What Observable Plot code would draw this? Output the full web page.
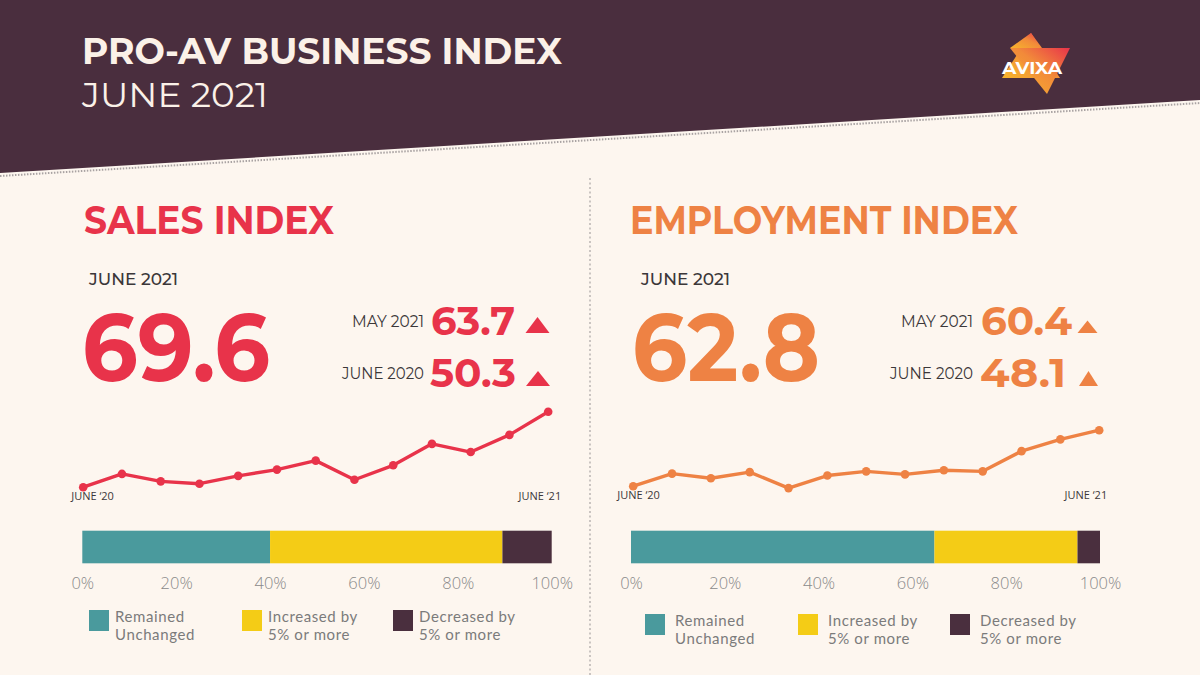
<!DOCTYPE html>
<html>
<head>
<meta charset="utf-8">
<script src="https://cdn.jsdelivr.net/npm/d3@7"></script>
<script src="https://cdn.jsdelivr.net/npm/@observablehq/plot@0.6"></script>
<style>
  html, body { margin: 0; padding: 0; background: #fdf6ef; }
  #page { position: relative; width: 1200px; height: 675px; overflow: hidden; background: #fdf6ef; font-family: "Open Sans", sans-serif; }
  .abs { position: absolute; }
  .legend-item { position: absolute; display: flex; align-items: flex-start; }
  .legend-swatch { width: 20px; height: 21px; }
  .legend-text { font-family: Lato, "Open Sans", sans-serif; font-size: 15px; line-height: 18px; color: #7b7b7b; letter-spacing: 0.6px; }
</style>
</head>
<body>
<div id="page">
  <svg id="deco" class="abs" width="1200" height="675" style="left:0;top:0"></svg>
</div>
<script>
// ---------------- DATA ----------------
const months = ["2020-06","2020-07","2020-08","2020-09","2020-10","2020-11","2020-12",
                "2021-01","2021-02","2021-03","2021-04","2021-05","2021-06"];
const salesIndex      = [50.3, 53.7, 51.8, 51.2, 53.2, 54.8, 57.1, 52.2, 55.9, 61.4, 59.3, 63.7, 69.6];
const employmentIndex = [48.1, 51.4, 50.2, 51.8, 47.6, 50.9, 52.0, 51.2, 52.3, 52.0, 57.3, 60.4, 62.8];
const endLabels = ["JUNE ‘20", "JUNE ‘21"];

const responseCategories = ["Remained Unchanged", "Increased by 5% or more", "Decreased by 5% or more"];
const legendLines = [["Remained", "Unchanged"], ["Increased by", "5% or more"], ["Decreased by", "5% or more"]];
const salesShares      = [40.0, 49.5, 10.5];
const employmentShares = [64.7, 30.5, 4.8];
const axisTicks = [0, 20, 40, 60, 80, 100];

// ---------------- STYLE ----------------
const RED = "#e8334a", ORANGE = "#ee8244", DARK = "#4a2e3e", CREAM = "#fbf1e8", INK = "#3b3739";
const categoryColors = ["#4a9a9d", "#f4cc16", "#4a2f3e"];

const page = document.getElementById("page");
const svg = d3.select("#deco");

// header band
svg.append("polygon").attr("points", "0,0 1200,0 1200,100 0,173").attr("fill", DARK);
svg.append("line").attr("x1", 0).attr("y1", 176).attr("x2", 1200).attr("y2", 103)
  .attr("stroke", "#a9a3a3").attr("stroke-width", 2).attr("stroke-dasharray", "1.5,1.5");
// divider
svg.append("line").attr("x1", 590).attr("y1", 178).attr("x2", 590).attr("y2", 675)
  .attr("stroke", "#b0aaa8").attr("stroke-width", 1.3).attr("stroke-dasharray", "2,2.5");

// logo
const defs = svg.append("defs");
const grad = defs.append("linearGradient").attr("id", "lg").attr("x1", "0").attr("y1", "1").attr("x2", "1").attr("y2", "0");
grad.append("stop").attr("offset", "0").attr("stop-color", "#f7b52c");
grad.append("stop").attr("offset", "0.55").attr("stop-color", "#f28a3a");
grad.append("stop").attr("offset", "1").attr("stop-color", "#e8334a");
svg.append("polygon").attr("points", "1031,33 1002,78 1060,78").attr("fill", "url(#lg)");
svg.append("polygon").attr("points", "1010,48 1070,48 1047,94").attr("fill", "url(#lg)");
svg.append("polygon").attr("points", "1010,48 1042,48 1031,33").attr("fill", "url(#lg)");

function txt(s, x, y, w, size, weight, fill, family) {
  svg.append("text").attr("x", x).attr("y", y).attr("font-size", size).attr("font-weight", weight)
    .attr("font-family", family || "Montserrat, 'Open Sans', sans-serif").attr("fill", fill)
    .attr("textLength", w).attr("lengthAdjust", "spacingAndGlyphs").text(s);
}
txt("AVIXA", 1002, 74, 60, 16, 700, "#ffffff");
txt("PRO-AV BUSINESS INDEX", 82, 64, 480, 37, 700, CREAM);
txt("JUNE 2021", 82, 107, 186, 33, 400, CREAM);

function tri(cx, base, w, h, fill) {
  svg.append("polygon").attr("points", `${cx - w/2},${base} ${cx + w/2},${base} ${cx},${base - h}`).attr("fill", fill);
}

const panels = [
  { name: "SALES INDEX", values: salesIndex, shares: salesShares, color: RED,
    titleX: 84, titleW: 250, dateX: 89, bigX: 82, bigW: 188,
    mayX: 352, mayW: 72, numX: 431, numW: 84, jun20X: 342, jun20W: 82, num2W: 86,
    tri1: [537.5, 333, 24, 16], tri2: [538, 386, 24, 15],
    lineLeft: 60, lineRange: [50.3, 69.6], lineMargins: [11.3, 32.3, 23.3, 22.7], labelDx: [-12, 13],
    barLeft: 60, barMargins: [22.3, 28.3],
    legendTop: 607, legendX: [89, 242, 393], legendTextGap: 26 },
  { name: "EMPLOYMENT INDEX", values: employmentIndex, shares: employmentShares, color: ORANGE,
    titleX: 630, titleW: 388, dateX: 641, bigX: 632, bigW: 188,
    mayX: 901, mayW: 72, numX: 981, numW: 91, jun20X: 890, jun20W: 83, num2W: 86,
    tri1: [1087.5, 333, 20, 12.5], tri2: [1088.5, 386, 19, 15],
    lineLeft: 610, lineRange: [48.1, 62.8], lineMargins: [29.7, 31.3, 24.3, 22.7], labelDx: [-16, 8],
    barLeft: 610, barMargins: [21, 30],
    legendTop: 611, legendX: [645, 798, 950], legendTextGap: 30 }
];

for (const p of panels) {
  const last = p.values[p.values.length - 1], prev = p.values[p.values.length - 2], first = p.values[0];
  txt(p.name, p.titleX, 233.5, p.titleW, 40, 700, p.color);
  txt("JUNE 2021", p.dateX, 285, 89, 17, 500, INK);
  txt(last.toFixed(1), p.bigX, 381, p.bigW, 95, 700, p.color);
  txt("MAY 2021", p.mayX, 327, p.mayW, 17, 400, INK);
  txt(prev.toFixed(1), p.numX, 335, p.numW, 40, 700, p.color);
  txt("JUNE 2020", p.jun20X, 379, p.jun20W, 17, 400, INK);
  txt(first.toFixed(1), p.numX - 1, 387, p.num2W, 40, 700, p.color);
  tri(...p.tri1, p.color);
  tri(...p.tri2, p.color);

  // ---- line chart ----
  const data = months.map((m, i) => ({ month: m, value: p.values[i] }));
  const [mt, mr, mb, ml] = p.lineMargins;
  const line = Plot.plot({
    width: 520, height: 110, marginTop: mt, marginRight: mr, marginBottom: mb, marginLeft: ml,
    style: { background: "transparent", overflow: "visible" },
    x: { type: "point", domain: months, padding: 0, round: false, axis: null },
    y: { domain: p.lineRange, axis: null },
    marks: [
      Plot.line(data, { x: "month", y: "value", stroke: p.color, strokeWidth: 3.4 }),
      Plot.dot(data, { x: "month", y: "value", fill: p.color, r: 4.3 }),
      Plot.text([months[0]], { x: d => d, frameAnchor: "bottom", dy: 13, dx: p.labelDx[0], textAnchor: "start",
        text: () => endLabels[0], fontSize: 11, fontWeight: 500, fill: INK, fontFamily: "'Open Sans', sans-serif" }),
      Plot.text([months[months.length - 1]], { x: d => d, frameAnchor: "bottom", dy: 13, dx: p.labelDx[1], textAnchor: "end",
        text: () => endLabels[1], fontSize: 11, fontWeight: 500, fill: INK, fontFamily: "'Open Sans', sans-serif" })
    ]
  });
  line.style.position = "absolute"; line.style.left = p.lineLeft + "px"; line.style.top = "400px";
  page.appendChild(line);

  // ---- stacked bar ----
  const shareData = responseCategories.map((c, i) => ({ category: c, share: p.shares[i] }));
  const bar = Plot.plot({
    width: 520, height: 80, marginTop: 10.7, marginBottom: 36.7, marginLeft: p.barMargins[0], marginRight: p.barMargins[1],
    style: { background: "transparent", overflow: "visible", color: "#8a8a8a", fontSize: "16.5px", fontFamily: "'Open Sans', sans-serif" },
    x: { domain: [0, 100], axis: null },
    color: { domain: responseCategories, range: categoryColors },
    marks: [
      Plot.barX(shareData, Plot.stackX({ x: "share", fill: "category", order: null })),
      Plot.axisX(axisTicks, { tickSize: 0, tickPadding: 13, tickFormat: d => d + "%", label: null, fontWeight: 300 })
    ]
  });
  bar.style.position = "absolute"; bar.style.left = p.barLeft + "px"; bar.style.top = "520px";
  page.appendChild(bar);

  // ---- legend ----
  responseCategories.forEach((c, i) => {
    const item = document.createElement("div");
    item.className = "legend-item";
    item.style.left = p.legendX[i] + "px";
    item.style.top = p.legendTop + "px";
    const sw = document.createElement("div");
    sw.className = "legend-swatch"; sw.style.background = categoryColors[i]; sw.style.marginTop = "3px";
    const t = document.createElement("div");
    t.className = "legend-text"; t.style.marginLeft = (p.legendTextGap - 20) + "px";
    t.innerHTML = legendLines[i].join("<br>");
    item.appendChild(sw); item.appendChild(t);
    page.appendChild(item);
  });
}
</script>
</body>
</html>
